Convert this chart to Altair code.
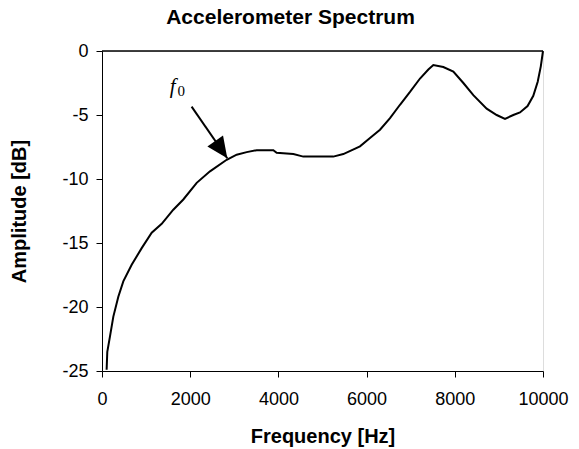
import altair as alt
import pandas as pd

# Spectrum samples: frequency [Hz] and amplitude [dB]
freq = [105, 120, 181, 257, 370, 483, 673, 900, 1127, 1354, 1617, 1844,
        2147, 2449, 2827, 3054, 3281, 3508, 3885, 3961, 4338, 4565, 5245,
        5472, 5850, 6077, 6304, 6531, 6757, 6984, 7211, 7400, 7513, 7740,
        7967, 8194, 8420, 8723, 8950, 9138, 9327, 9478, 9650, 9780, 9880,
        9950, 10000]
amp = [-24.9, -23.5, -22.3, -20.75, -19.2, -18.0, -16.7, -15.4, -14.2,
       -13.5, -12.4, -11.6, -10.3, -9.4, -8.5, -8.1, -7.9, -7.75, -7.75,
       -7.95, -8.05, -8.25, -8.25, -8.05, -7.45, -6.8, -6.15, -5.25, -4.2,
       -3.2, -2.15, -1.45, -1.1, -1.25, -1.6, -2.5, -3.45, -4.5, -5.0, -5.3,
       -5.0, -4.8, -4.3, -3.5, -2.4, -1.2, 0.0]

x_ticks = [0, 2000, 4000, 6000, 8000, 10000]
y_ticks = [-25, -20, -15, -10, -5, 0]

# f0 annotation: label position, arrow start and arrow tip
label_f = [1600]
label_db = [-2.8]
arrow_start = [2032, -4.35]
arrow_tip = [2841, -8.38]

FONT = "Liberation Sans"

spec = pd.DataFrame({"f": freq, "a": amp})

xs = alt.Scale(domain=[0, 10000], nice=False, zero=False)
ys = alt.Scale(domain=[-25, 0], nice=False, zero=False)

common_axis = dict(labelFontSize=18, titleFontSize=20, titleFontWeight="bold",
                   labelFont=FONT, titleFont=FONT, labelColor="black",
                   titleColor="black", domainColor="black", tickColor="black",
                   tickSize=6, grid=False, labelFlush=False,
                   labelExpr="toString(datum.value)")

line = alt.Chart(spec).mark_line(color="black", strokeWidth=2).encode(
    x=alt.X("f:Q", scale=xs,
            axis=alt.Axis(values=x_ticks, title="Frequency [Hz]",
                          labelPadding=13, titlePadding=18, **common_axis)),
    y=alt.Y("a:Q", scale=ys,
            axis=alt.Axis(values=y_ticks, title="Amplitude [dB]",
                          labelPadding=8, titlePadding=32, **common_axis)),
)

# top edge of the plot frame
top = alt.Chart(pd.DataFrame({"y0": [0]})).mark_rule(
    color="black", strokeWidth=1.5).encode(
    y=alt.Y("y0:Q", scale=ys), x=alt.value(0), x2=alt.value(441))

arrow_df = pd.DataFrame({"f": [arrow_start[0]], "a": [arrow_start[1]],
                         "f2": [arrow_tip[0]], "a2": [arrow_tip[1]]})
shaft = alt.Chart(arrow_df).mark_rule(color="black", strokeWidth=2).encode(
    x=alt.X("f:Q", scale=xs), y=alt.Y("a:Q", scale=ys),
    x2="f2:Q", y2="a2:Q")

head = alt.Chart(pd.DataFrame({"f": [arrow_tip[0]], "a": [arrow_tip[1]]})).mark_point(
    shape="M0,0L-0.53,1.17L0.53,1.17Z", size=1296, filled=True,
    color="black", opacity=1, angle=145).encode(
    x=alt.X("f:Q", scale=xs), y=alt.Y("a:Q", scale=ys))

label = alt.Chart(pd.DataFrame({"f": label_f, "a": label_db})).mark_text(
    text="f", font="Liberation Serif", fontStyle="italic", fontSize=21,
    color="black", align="center", baseline="middle").encode(
    x=alt.X("f:Q", scale=xs), y=alt.Y("a:Q", scale=ys))

sub = alt.Chart(pd.DataFrame({"f": label_f, "a": label_db})).mark_text(
    text="0", font="Liberation Serif", fontSize=15, color="black",
    align="left", baseline="middle", dx=5, dy=4).encode(
    x=alt.X("f:Q", scale=xs), y=alt.Y("a:Q", scale=ys))

chart = alt.layer(top, line, shaft, head, label, sub).properties(
    width=441, height=320,
    autosize="none",
    padding={"left": 102, "top": 51, "right": 36, "bottom": 78},
    title=alt.TitleParams("Accelerometer Spectrum", font=FONT, fontSize=21,
                          fontWeight="bold", color="black", dx=-32,
                          offset=14),
).configure_view(stroke=None).configure(background="white")

chart.save("out.html", embed_options={"renderer": "svg", "actions": False})
